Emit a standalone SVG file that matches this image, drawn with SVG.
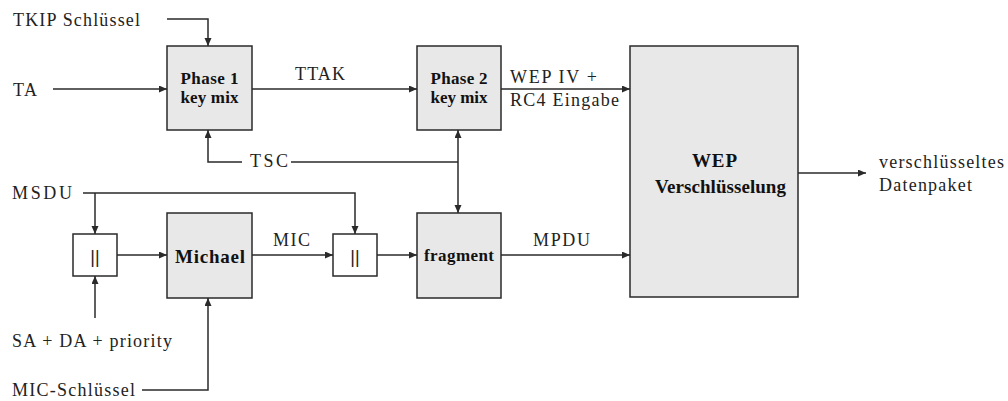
<svg xmlns="http://www.w3.org/2000/svg" width="1008" height="401" viewBox="0 0 1008 401">
<style>
.bg{fill:#ffffff}
.box{fill:#e8e8e8;stroke:#2a2a2a;stroke-width:1.5}
.sbox{fill:#ffffff;stroke:#2a2a2a;stroke-width:1.5}
.ln{fill:none;stroke:#2a2a2a;stroke-width:1.5}
.lbl{font-family:"Liberation Serif","DejaVu Serif",serif;font-size:18px;fill:#222}
.bold{font-family:"Liberation Serif","DejaVu Serif",serif;font-weight:bold;fill:#111;text-anchor:middle}
.par{font-family:"Liberation Sans",sans-serif;font-size:18px;fill:#222;text-anchor:middle}
</style>
<defs>
<marker id="ah" markerUnits="userSpaceOnUse" markerWidth="9" markerHeight="8" refX="8" refY="3.5" orient="auto">
<path d="M0,0 L8,3.5 L0,7 z" fill="#2a2a2a"/>
</marker>
</defs>
<rect class="bg" x="0" y="0" width="1008" height="401"/>
<g id="connectors">
<path class="ln" d="M167,19 H208 V46" marker-end="url(#ah)"/>
<path class="ln" d="M53,89 H167" marker-end="url(#ah)"/>
<path class="ln" d="M252,89 H417" marker-end="url(#ah)"/>
<path class="ln" d="M501,89 H630" marker-end="url(#ah)"/>
<path class="ln" d="M242,162 H208 V130" marker-end="url(#ah)"/>
<path class="ln" d="M291,162 H458"/>
<path class="ln" d="M458,162 V130" marker-end="url(#ah)"/>
<path class="ln" d="M458,162 V213" marker-end="url(#ah)"/>
<path class="ln" d="M798,173 H866" marker-end="url(#ah)"/>
<path class="ln" d="M83,193 H355 V234" marker-end="url(#ah)"/>
<path class="ln" d="M95,193 V234" marker-end="url(#ah)"/>
<path class="ln" d="M117,255 H167" marker-end="url(#ah)"/>
<path class="ln" d="M95,318 V276" marker-end="url(#ah)"/>
<path class="ln" d="M142,390 H208 V298" marker-end="url(#ah)"/>
<path class="ln" d="M252,255 H333" marker-end="url(#ah)"/>
<path class="ln" d="M377,255 H417" marker-end="url(#ah)"/>
<path class="ln" d="M501,255 H630" marker-end="url(#ah)"/>
</g>
<g id="phase1">
<rect class="box" x="167" y="46" width="85" height="84"/>
<text class="bold" x="209.5" y="84" font-size="17" textLength="58">Phase 1</text>
<text class="bold" x="209.5" y="103" font-size="17" textLength="58">key mix</text>
</g>
<g id="phase2">
<rect class="box" x="417" y="46" width="84" height="84"/>
<text class="bold" x="459" y="84" font-size="17" textLength="57">Phase 2</text>
<text class="bold" x="459" y="103" font-size="17" textLength="57">key mix</text>
</g>
<g id="wep">
<rect class="box" x="630" y="46" width="168" height="251"/>
<text class="bold" x="714.5" y="167" font-size="19" textLength="45">WEP</text>
<text class="bold" x="720.5" y="193" font-size="19" textLength="131">Verschlüsselung</text>
</g>
<g id="concat1">
<rect class="sbox" x="73" y="234" width="44" height="42"/>
<text class="par" x="95" y="263">||</text>
</g>
<g id="michael">
<rect class="box" x="167" y="213" width="85" height="85"/>
<text class="bold" x="210" y="263" font-size="19" textLength="70">Michael</text>
</g>
<g id="concat2">
<rect class="sbox" x="333" y="234" width="44" height="42"/>
<text class="par" x="355" y="263">||</text>
</g>
<g id="fragment">
<rect class="box" x="417" y="213" width="84" height="85"/>
<text class="bold" x="459" y="261" font-size="17" textLength="70">fragment</text>
</g>
<g id="labels">
<text class="lbl" x="13" y="26" textLength="127">TKIP Schlüssel</text>
<text class="lbl" x="13" y="96" textLength="24">TA</text>
<text class="lbl" x="295" y="80" textLength="50">TTAK</text>
<text class="lbl" x="250" y="167" textLength="38">TSC</text>
<text class="lbl" x="510" y="83" textLength="87">WEP IV +</text>
<text class="lbl" x="510" y="106" textLength="109">RC4 Eingabe</text>
<text class="lbl" x="12" y="199" textLength="60">MSDU</text>
<text class="lbl" x="12" y="347" textLength="160">SA + DA + priority</text>
<text class="lbl" x="12" y="396" textLength="123">MIC-Schlüssel</text>
<text class="lbl" x="273" y="246" textLength="37">MIC</text>
<text class="lbl" x="533" y="246" textLength="57">MPDU</text>
<text class="lbl" x="879" y="168" textLength="125">verschlüsseltes</text>
<text class="lbl" x="879" y="191" textLength="93">Datenpaket</text>
</g>
</svg>
